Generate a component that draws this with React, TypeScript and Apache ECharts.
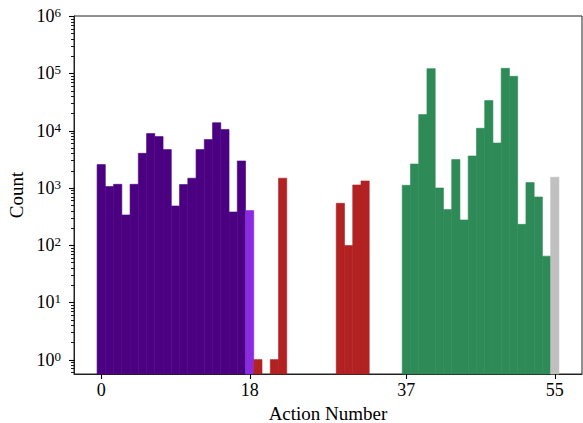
import React, { useEffect, useRef } from "react";
import * as echarts from "echarts";

// Histogram counts per action number (bin centred on the integer)
const purpleStart = 0;
const purpleCounts = [2540, 1050, 1150, 335, 1150, 4000, 8840, 7830, 4640, 481, 1140, 1470, 4640, 6940, 13700, 10400, 378, 2940];
const violetStart = 18;
const violetCounts = [400];
const redStart = 19;
const redCounts = [1, 0, 1, 1470, 0, 0, 0, 0, 0, 0, 536, 98, 1120, 1315, 0, 0, 0, 0];
const greenStart = 37;
const greenCounts = [1106, 2600, 18970, 120500, 992, 416, 3105, 274, 3590, 10940, 33300, 6050, 122000, 88500, 230, 1232, 691, 64];
const grayStart = 55;
const grayCounts = [1525];

const xTicks = [0, 18, 37, 55];
const yMajorTicks = [1, 10, 100, 1000, 10000, 100000, 1000000];
const yMinorTicks: number[] = [];
for (let k = -1; k <= 5; k++) {
  for (let m = 2; m <= 9; m++) {
    const v = m * Math.pow(10, k);
    if (v >= 0.56 && v <= 1e6) yMinorTicks.push(Number(v.toPrecision(6)));
  }
}

const X_MIN = -3.3;
const X_MAX = 58.3;
const Y_MIN = 0.56;
const Y_MAX = 1e6;
const FONT = "Liberation Serif";
const AXIS_COLOR = "#222";

function toData(start: number, counts: number[]) {
  return counts
    .map((c, i) => [start + i, c])
    .filter((d) => d[1] > 0);
}

function barSeries(name: string, start: number, counts: number[], color: string) {
  return {
    name,
    type: "custom",
    xAxisIndex: 0,
    yAxisIndex: 0,
    encode: { x: 0, y: 1 },
    data: toData(start, counts),
    renderItem: (params: any, api: any) => {
      const x = api.value(0);
      const v = api.value(1);
      const p0 = api.coord([x - 0.5, v]);
      const p1 = api.coord([x + 0.5, Y_MIN]);
      return {
        type: "rect",
        shape: { x: p0[0], y: p0[1], width: p1[0] - p0[0], height: p1[1] - p0[1] },
        style: { fill: color, stroke: color, lineWidth: 0.6 },
      };
    },
  };
}

export default function App() {
  const ref = useRef<HTMLDivElement>(null);
  useEffect(() => {
    if (!ref.current) return;
    const chart = echarts.init(ref.current, undefined, { renderer: "svg" });
    const isPow = (v: number) => {
      const l = Math.log10(v);
      return Math.abs(l - Math.round(l)) < 1e-6;
    };
    chart.setOption({
      animation: false,
      backgroundColor: "#fff",
      grid: {
        left: 74,
        right: 1,
        top: 16,
        bottom: 49,
        show: true,
        borderColor: AXIS_COLOR,
        borderWidth: 1,
        backgroundColor: "transparent",
        outerBoundsMode: "none",
      },
      xAxis: {
        type: "value",
        min: X_MIN,
        max: X_MAX,
        name: "Action Number",
        nameLocation: "middle",
        nameGap: 25,
        nameTextStyle: { fontFamily: FONT, fontSize: 19, lineHeight: 19, color: "#000" },
        axisLine: { show: true, onZero: false, lineStyle: { color: AXIS_COLOR, width: 1 } },
        axisTick: { show: false },
        axisLabel: {
          show: true,
          customValues: xTicks,
          margin: 7,
          fontFamily: FONT,
          fontSize: 18,
          color: "#000",
        },
        splitLine: { show: false },
      },
      yAxis: {
        type: "log",
        logBase: 10,
        min: Y_MIN,
        max: Y_MAX,
        name: "Count",
        nameLocation: "middle",
        nameGap: 33,
        nameTextStyle: { fontFamily: FONT, fontSize: 19, color: "#000" },
        axisLine: { show: true, onZero: false, lineStyle: { color: AXIS_COLOR, width: 1 } },
        axisTick: { show: false },
        axisLabel: {
          show: true,
          customValues: yMajorTicks,
          margin: 13,
          formatter: (v: number) => (isPow(v) ? `{b|10}{s|${Math.round(Math.log10(v))}}` : ""),
          rich: {
            b: { fontFamily: FONT, fontSize: 18, lineHeight: 20, color: "#000" },
            s: { fontFamily: FONT, fontSize: 13, lineHeight: 10, verticalAlign: "top", color: "#000" },
          },
        },
        splitLine: { show: false },
      },
      series: [
        barSeries("purple", purpleStart, purpleCounts, "#4B0082"),
        barSeries("violet", violetStart, violetCounts, "#8A2BE2"),
        barSeries("red", redStart, redCounts, "#B22222"),
        barSeries("green", greenStart, greenCounts, "#2E8B57"),
        barSeries("gray", grayStart, grayCounts, "#C0C0C0"),
      ],
    });

    // Tick marks placed through the chart's own scales
    const ticks: any[] = [];
    const yTick = (v: number, len: number, w: number) => {
      const p = chart.convertToPixel({ gridIndex: 0 }, [X_MIN, v]) as number[];
      const y = Math.round(p[1]) + 0.5;
      ticks.push({
        type: "line",
        silent: true,
        z: 10,
        shape: { x1: p[0] - len, y1: y, x2: p[0], y2: y },
        style: { stroke: "#000", lineWidth: w },
      });
    };
    yMajorTicks.forEach((v) => yTick(v, 5, 1.1));
    yMinorTicks.forEach((v) => yTick(v, 3, 0.9));
    xTicks.forEach((v) => {
      const p = chart.convertToPixel({ gridIndex: 0 }, [v, Y_MIN]) as number[];
      const x = Math.round(p[0]) + 0.5;
      ticks.push({
        type: "line",
        silent: true,
        z: 10,
        shape: { x1: x, y1: p[1], x2: x, y2: p[1] + 5 },
        style: { stroke: "#000", lineWidth: 1.1 },
      });
    });
    chart.setOption({ graphic: { elements: ticks } });

    return () => chart.dispose();
  }, []);
  return (
    <div
      ref={ref}
      style={{ position: "absolute", left: 0, top: 0, width: 583, height: 423 }}
    />
  );
}
